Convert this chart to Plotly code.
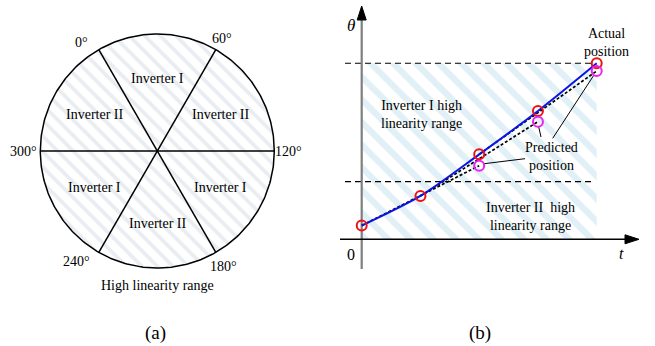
import numpy as np
import plotly.graph_objects as go

# ---------------- data ----------------
# panel (a): sector boundaries (compass degrees) and sector labels
boundary_deg = [0, 60, 120, 180, 240, 300]
boundary_labels = ["0°", "60°", "120°", "180°", "240°", "300°"]
sector_labels = ["Inverter I", "Inverter II", "Inverter I", "Inverter II", "Inverter I", "Inverter II"]

# panel (b): time steps, actual and predicted rotor position (deg)
t_steps = [0, 1, 2, 3, 4]
theta_actual = [14, 44.3, 86.9, 131.2, 180]
t_pred = [2, 3, 4]
theta_pred = [75.3, 120.3, 172.1]
range_bounds = [0, 59, 180]   # lower, switch, upper limit of the high-linearity ranges

FONT = "Liberation Serif"
W, H = 655, 346

fig = go.Figure()

# ---------------- panel (a) ----------------
cx, cy, R = 157.3, 151.0, 117.0
xa_rng = [(0 - cx) / R, (330 - cx) / R]
ya_rng = [(cy - H) / R, (cy - 0) / R]

def std_angle(a):
    return np.deg2rad(120 - a)

th = np.linspace(0, 2 * np.pi, 361)
fig.add_trace(go.Scatter(
    x=np.cos(th), y=np.sin(th), mode="lines", fill="toself",
    line=dict(color="black", width=1.5),
    fillcolor="white",
    fillpattern=dict(shape="\\", size=11, solidity=0.35, fgcolor="#d3dce6", bgcolor="white"),
    xaxis="x", yaxis="y", hoverinfo="skip", showlegend=False))

for a in boundary_deg[:3]:
    r1, r2 = std_angle(a), std_angle(a + 180)
    fig.add_trace(go.Scatter(
        x=[np.cos(r1), np.cos(r2)], y=[np.sin(r1), np.sin(r2)], mode="lines",
        line=dict(color="black", width=1.5), xaxis="x", yaxis="y",
        hoverinfo="skip", showlegend=False))

ann = []
lab_off = [5, 0, 0, 0, -6, 0]
lab_r = [1.13, 1.11, 1.12, 1.14, 1.17, 1.14]
for a, lab, off, rr in zip(boundary_deg, boundary_labels, lab_off, lab_r):
    ang = np.deg2rad(120 - a + off)
    ann.append(dict(x=rr * np.cos(ang), y=rr * np.sin(ang), xref="x", yref="y",
                    text=lab, showarrow=False, font=dict(family=FONT, size=14, color="black")))
for i, lab in enumerate(sector_labels):
    ang = np.deg2rad(120 - (boundary_deg[i] + 30))
    ann.append(dict(x=0.62 * np.cos(ang), y=0.62 * np.sin(ang), xref="x", yref="y",
                    text=lab, showarrow=False, font=dict(family=FONT, size=14, color="black")))
ann.append(dict(x=0, y=(cy - 285) / R, xref="x", yref="y", text="High linearity range",
                showarrow=False, font=dict(family=FONT, size=14, color="black")))
ann.append(dict(x=(155 - cx) / R, y=(cy - 333) / R, xref="x", yref="y", text="(a)",
                showarrow=False, font=dict(family=FONT, size=19, color="black")))

# ---------------- panel (b) ----------------
x0p, sx = 361.7, 58.75      # px of t=0, px per step
y0p, sy = 239.3, 0.9778     # px of theta=0, px per degree
xb_rng = [(330 - x0p) / sx, (W - x0p) / sx]
yb_rng = [(y0p - H) / sy, y0p / sy]

def bt(px):
    return (px - x0p) / sx

def bth(py):
    return (y0p - py) / sy

tmax = t_steps[-1]
fig.add_trace(go.Scatter(
    x=[0, tmax, tmax, 0, 0], y=[range_bounds[0], range_bounds[0], range_bounds[2], range_bounds[2], range_bounds[0]],
    mode="lines", fill="toself", line=dict(width=0, color="rgba(0,0,0,0)"),
    fillcolor="white",
    fillpattern=dict(shape="\\", size=16, solidity=0.4, fgcolor="#c3e1ee", bgcolor="white"),
    xaxis="x2", yaxis="y2", hoverinfo="skip", showlegend=False))

for lvl in range_bounds[1:]:
    fig.add_trace(go.Scatter(
        x=[bt(345), bt(595)], y=[lvl, lvl], mode="lines",
        line=dict(color="black", width=1.1, dash="6px,4px"),
        xaxis="x2", yaxis="y2", hoverinfo="skip", showlegend=False))

fig.add_trace(go.Scatter(x=[0, 0], y=[bth(269), bth(12)], mode="lines",
                         line=dict(color="#7f7f7f", width=2.2), xaxis="x2", yaxis="y2",
                         hoverinfo="skip", showlegend=False))
fig.add_trace(go.Scatter(x=[bt(340), bt(630)], y=[0, 0], mode="lines",
                         line=dict(color="black", width=1.4), xaxis="x2", yaxis="y2",
                         hoverinfo="skip", showlegend=False))
fig.add_trace(go.Scatter(
    x=[0, bt(361.7 - 4.5), bt(361.7 + 4.5), 0], y=[bth(6), bth(20), bth(20), bth(6)],
    mode="lines", fill="toself", fillcolor="black", line=dict(color="black", width=1),
    xaxis="x2", yaxis="y2", hoverinfo="skip", showlegend=False))
fig.add_trace(go.Scatter(
    x=[bt(639), bt(625), bt(625), bt(639)], y=[0, bth(y0p - 4.5), bth(y0p + 4.5), 0],
    mode="lines", fill="toself", fillcolor="black", line=dict(color="black", width=1),
    xaxis="x2", yaxis="y2", hoverinfo="skip", showlegend=False))

for tp, vp in zip(t_pred, theta_pred):
    i = t_steps.index(tp) - 2
    fig.add_trace(go.Scatter(x=[t_steps[i], tp], y=[theta_actual[i], vp], mode="lines",
                             line=dict(color="black", width=1.7, dash="3px,2px"),
                             xaxis="x2", yaxis="y2", hoverinfo="skip", showlegend=False))

fig.add_trace(go.Scatter(x=t_steps, y=theta_actual, mode="lines",
                         line=dict(color="#0a14e6", width=2, shape="spline", smoothing=0.8),
                         xaxis="x2", yaxis="y2", hoverinfo="skip", showlegend=False))

leaders = [((bt(484), theta_pred[0] + 2), (bt(525), bth(158.7))),
           ((bt(538.5), theta_pred[1] - 4.5), (bt(541), bth(137))),
           ((bt(594), theta_pred[2] - 4), (bt(552.7), bth(138.3)))]
for (xa, ya), (xb, yb) in leaders:
    fig.add_trace(go.Scatter(x=[xa, xb], y=[ya, yb], mode="lines",
                             line=dict(color="black", width=1), xaxis="x2", yaxis="y2",
                             hoverinfo="skip", showlegend=False))

fig.add_trace(go.Scatter(x=t_steps, y=theta_actual, mode="markers",
                         marker=dict(symbol="circle-open", size=10, color="#ee1111", line=dict(width=2)),
                         xaxis="x2", yaxis="y2", hoverinfo="skip", showlegend=False))
fig.add_trace(go.Scatter(x=t_pred, y=theta_pred, mode="markers",
                         marker=dict(symbol="circle-open", size=10, color="#ee22ee", line=dict(width=2)),
                         xaxis="x2", yaxis="y2", hoverinfo="skip", showlegend=False))

def bann(px, py, text, size=14):
    return dict(x=bt(px), y=bth(py), xref="x2", yref="y2", text=text, showarrow=False,
                font=dict(family=FONT, size=size, color="black"))

ann += [
    bann(421.7, 114, "Inverter I high<br>linearity range"),
    bann(530, 216.5, "Inverter II  high<br>linearity range"),
    bann(551.7, 156, "Predicted<br>position"),
    bann(606.7, 42, "Actual<br>position"),
    bann(351.5, 25, "<i>θ</i>", size=17),
    bann(350.7, 254, "0", size=16),
    bann(621, 253, "<i>t</i>", size=16),
    bann(480, 333, "(b)", size=19),
]

fig.update_layout(
    width=W, height=H, autosize=False,
    margin=dict(l=0, r=0, t=0, b=0, pad=0),
    paper_bgcolor="white", plot_bgcolor="rgba(0,0,0,0)",
    showlegend=False,
    annotations=ann,
    xaxis=dict(domain=[0, 330 / W], range=xa_rng, visible=False, fixedrange=True),
    yaxis=dict(domain=[0, 1], range=ya_rng, visible=False, fixedrange=True),
    xaxis2=dict(domain=[330 / W, 1], range=xb_rng, visible=False, fixedrange=True, anchor="y2"),
    yaxis2=dict(domain=[0, 1], range=yb_rng, visible=False, fixedrange=True, anchor="x2"),
)

fig.write_html("out.html")
